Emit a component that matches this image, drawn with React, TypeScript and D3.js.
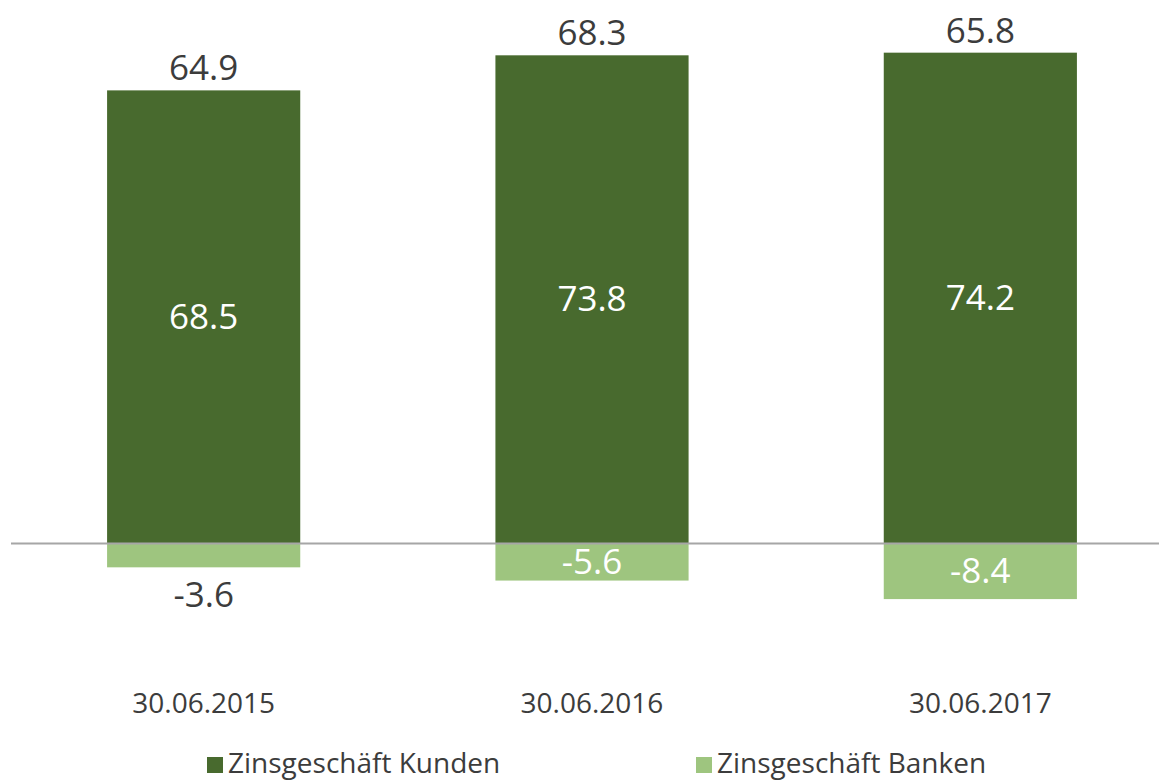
import React from "react";
import * as d3 from "d3";

const categories = ["30.06.2015", "30.06.2016", "30.06.2017"];
const kunden = [68.5, 73.8, 74.2];
const banken = [-3.6, -5.6, -8.4];
const totals = [64.9, 68.3, 65.8];
const legendLabels = ["Zinsgeschäft Kunden", "Zinsgeschäft Banken"];

const W = 1159;
const H = 781;
const DARK = "#486a2e";
const LIGHT = "#9ec57f";
const TEXT = "#3c3c3c";
const FONT = "'Open Sans', 'Noto Sans', sans-serif";

export default function App() {
  const x = d3
    .scaleBand<string>()
    .domain(categories)
    .range([10, 1174])
    .paddingInner(0.5026)
    .paddingOuter(0.25);
  const y = d3.scaleLinear().domain([-12, 80]).range([622.9, 14.3]);
  const bw = x.bandwidth();
  const y0 = y(0);

  return (
    <svg
      width={W}
      height={H}
      style={{ position: "absolute", left: 0, top: 0, display: "block", background: "#fff" }}
      fontFamily={FONT}
    >
      {categories.map((c, i) => {
        const x0 = x(c)!;
        const cx = x0 + bw / 2;
        const topY = y(kunden[i]);
        const botY = y(banken[i]);
        const negH = botY - y0;
        const negInside = negH > 30;
        return (
          <g key={c}>
            <rect x={x0} y={topY} width={bw} height={y0 - topY} fill={DARK} />
            <rect x={x0} y={y0} width={bw} height={negH} fill={LIGHT} />
            <text x={cx} y={(topY + y0) / 2 + 12} textAnchor="middle" fontSize={35} fill="#fff">
              {kunden[i].toFixed(1)}
            </text>
            <text
              x={cx}
              y={negInside ? (y0 + botY) / 2 + 12 : botY + 40}
              textAnchor="middle"
              fontSize={35}
              fill={negInside ? "#fff" : TEXT}
            >
              {banken[i].toFixed(1)}
            </text>
            <text x={cx} y={topY - 10} textAnchor="middle" fontSize={35} fill={TEXT}>
              {totals[i].toFixed(1)}
            </text>
            <text x={cx} y={713} textAnchor="middle" fontSize={28} fill={TEXT}>
              {c}
            </text>
          </g>
        );
      })}
      <line x1={11} x2={W} y1={y0} y2={y0} stroke="#a6a6a6" strokeWidth={2} />
      {legendLabels.map((l, i) => {
        const lx = i === 0 ? 207 : 696;
        return (
          <g key={l}>
            <rect x={lx} y={757} width={16} height={16} fill={i === 0 ? DARK : LIGHT} />
            <text x={lx + 21} y={773} fontSize={28} fill={TEXT}>
              {l}
            </text>
          </g>
        );
      })}
    </svg>
  );
}
